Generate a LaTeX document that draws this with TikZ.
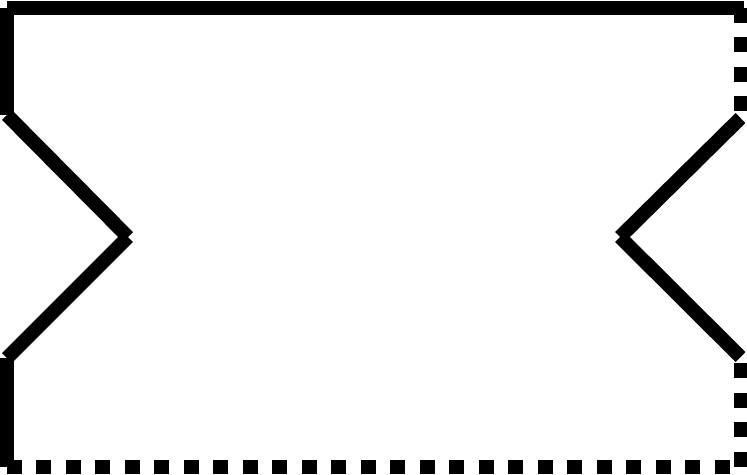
\documentclass[tikz,border=0pt]{standalone}
\usepackage{tikz}

\begin{document}
\begin{tikzpicture}[
    x=0.02cm, y=-0.02cm,
    edge/.style={line width=0.28cm},
    dashededge/.style={line width=0.28cm, dash pattern=on 0.3cm off 0.29cm}
]

% Picture frame
\useasboundingbox (0, 0) rectangle (747, 474);

% ===== CORNERS =====
\coordinate (topleft) at (7, 8);
\coordinate (topright) at (744, 8);
\coordinate (rightup) at (740.5, 8);
\coordinate (bottomleft) at (7, 466.5);
\coordinate (bottomright) at (740.5, 466.5);

% ===== NOTCHES =====
% Left notch
\coordinate (leftupper) at (7, 115);
\coordinate (lefttip) at (128, 237);
\coordinate (leftlower) at (7, 358);
% Right notch
\coordinate (rightupper) at (740.5, 118);
\coordinate (righttip) at (620, 237);
\coordinate (rightlower) at (740.5, 357);

% ===== SOLID EDGES =====
\draw[edge] (topleft) -- (topright);
\draw[edge] (topleft) -- (leftupper);
\draw[edge] (leftupper) -- (lefttip);
\draw[edge] (lefttip) -- (leftlower);
\draw[edge] (leftlower) -- (bottomleft);
\draw[edge] (rightupper) -- (righttip);
\draw[edge] (righttip) -- (rightlower);

% ===== DASHED EDGES =====
\draw[dashededge] (bottomleft) -- (bottomright);
\draw[dashededge] (rightup) -- (rightupper);
\draw[dashededge] (bottomright) -- (rightlower);

\end{tikzpicture}
\end{document}
